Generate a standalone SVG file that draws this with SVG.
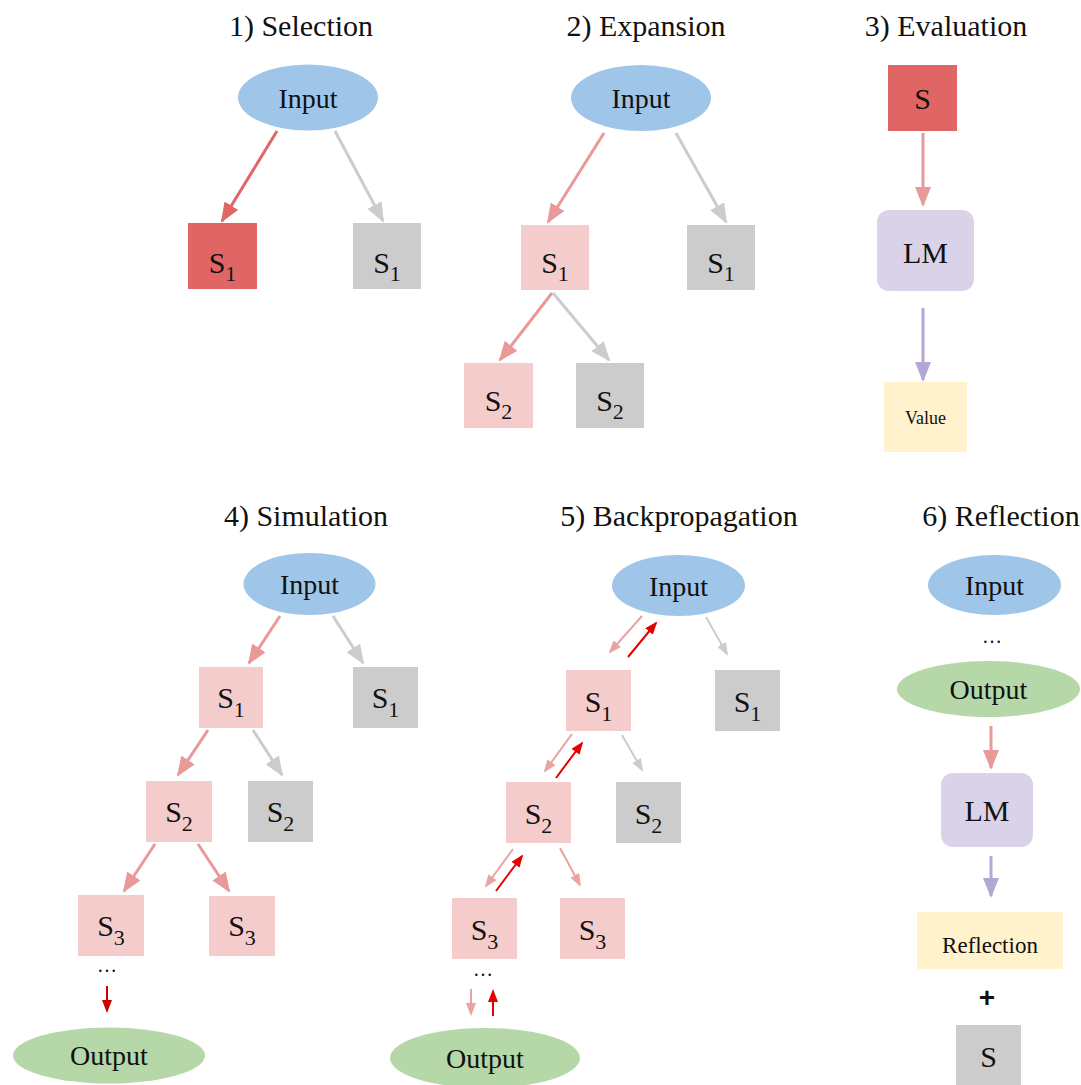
<svg xmlns="http://www.w3.org/2000/svg" width="1081" height="1085" viewBox="0 0 1081 1085">
  <style>
    text { font-family: "Liberation Serif", "Noto Serif", "DejaVu Serif", "Times New Roman", Times, serif; fill: #111; }
    .title { font-size: 30px; text-anchor: middle; }
    .lbl { font-size: 28px; text-anchor: middle; }
    .s { font-size: 30px; text-anchor: middle; }
    .sub { font-size: 22px; }
    .dots { font-size: 20px; text-anchor: middle; }
    .plus { font-family: "Liberation Sans", Arial, sans-serif; font-size: 28px; font-weight: bold; text-anchor: middle; }
    .input { fill: #9FC5E8; }
    .output { fill: #B6D7A8; }
    .red { fill: #E06666; }
    .pink { fill: #F4CCCC; }
    .gray { fill: #CCCCCC; }
    .lm { fill: #D9D2E9; }
    .note { fill: #FFF2CC; }
    .e { fill: none; stroke-width: 3; }
    .es { fill: none; stroke-width: 2; }
  </style>
  <defs>
    <marker id="hRed" markerUnits="userSpaceOnUse" markerWidth="20" markerHeight="16" refX="18" refY="8" orient="auto"><path d="M0,0 L20,8 L0,16 z" fill="#E06666"/></marker>
    <marker id="hPink" markerUnits="userSpaceOnUse" markerWidth="20" markerHeight="16" refX="18" refY="8" orient="auto"><path d="M0,0 L20,8 L0,16 z" fill="#EA9999"/></marker>
    <marker id="hGray" markerUnits="userSpaceOnUse" markerWidth="20" markerHeight="16" refX="18" refY="8" orient="auto"><path d="M0,0 L20,8 L0,16 z" fill="#CCCCCC"/></marker>
    <marker id="hPurple" markerUnits="userSpaceOnUse" markerWidth="20" markerHeight="16" refX="18" refY="8" orient="auto"><path d="M0,0 L20,8 L0,16 z" fill="#B4A7D6"/></marker>
    <marker id="sPink" markerUnits="userSpaceOnUse" markerWidth="13" markerHeight="10" refX="11" refY="5" orient="auto"><path d="M0,0 L13,5 L0,10 z" fill="#E8A3A3"/></marker>
    <marker id="sRed" markerUnits="userSpaceOnUse" markerWidth="13" markerHeight="10" refX="11" refY="5" orient="auto"><path d="M0,0 L13,5 L0,10 z" fill="#E60000"/></marker>
    <marker id="sGray" markerUnits="userSpaceOnUse" markerWidth="13" markerHeight="10" refX="11" refY="5" orient="auto"><path d="M0,0 L13,5 L0,10 z" fill="#CCCCCC"/></marker>
    <marker id="sDark" markerUnits="userSpaceOnUse" markerWidth="13" markerHeight="10" refX="11" refY="5" orient="auto"><path d="M0,0 L13,5 L0,10 z" fill="#CC0000"/></marker>
  </defs>
  <rect width="1081" height="1085" fill="#FFFFFF"/>

  <!-- panel titles -->
  <g id="titles">
    <text class="title" x="301" y="36">1) Selection</text>
    <text class="title" x="646" y="36">2) Expansion</text>
    <text class="title" x="946" y="36">3) Evaluation</text>
    <text class="title" x="306" y="526">4) Simulation</text>
    <text class="title" x="679" y="526">5) Backpropagation</text>
    <text class="title" x="1001" y="526">6) Reflection</text>
  </g>

  <!-- connectors -->
  <g id="connectors">
    <!-- 1) selection -->
    <path class="e" stroke="#E06666" d="M277,131 L222,221" marker-end="url(#hRed)"/>
    <path class="e" stroke="#CCCCCC" d="M335,131 L383,221" marker-end="url(#hGray)"/>
    <!-- 2) expansion -->
    <path class="e" stroke="#EA9999" d="M604,133 L548,222" marker-end="url(#hPink)"/>
    <path class="e" stroke="#CCCCCC" d="M676,133 L726,222" marker-end="url(#hGray)"/>
    <path class="e" stroke="#EA9999" d="M552,293 L500,360" marker-end="url(#hPink)"/>
    <path class="e" stroke="#CCCCCC" d="M553,293 L609,360" marker-end="url(#hGray)"/>
    <!-- 3) evaluation -->
    <path class="e" stroke="#EA9999" d="M923,133 L923,205" marker-end="url(#hPink)"/>
    <path class="e" stroke="#B4A7D6" d="M923,308 L923,380" marker-end="url(#hPurple)"/>
    <!-- 4) simulation -->
    <path class="e" stroke="#EA9999" d="M280,616 L249,663" marker-end="url(#hPink)"/>
    <path class="e" stroke="#CCCCCC" d="M333,616 L363,663" marker-end="url(#hGray)"/>
    <path class="e" stroke="#EA9999" d="M208,730 L178,775" marker-end="url(#hPink)"/>
    <path class="e" stroke="#CCCCCC" d="M253,730 L282,775" marker-end="url(#hGray)"/>
    <path class="e" stroke="#EA9999" d="M155,844 L124,891" marker-end="url(#hPink)"/>
    <path class="e" stroke="#EA9999" d="M198,844 L229,891" marker-end="url(#hPink)"/>
    <path class="es" stroke="#CC0000" d="M107,986 L107,1011" marker-end="url(#sDark)"/>
    <!-- 5) backpropagation -->
    <path class="es" stroke="#E8A3A3" d="M642,616 L610,652" marker-end="url(#sPink)"/>
    <path class="es" stroke="#E60000" d="M628,657 L656,623" marker-end="url(#sRed)"/>
    <path class="es" stroke="#CCCCCC" d="M706,617 L727,654" marker-end="url(#sGray)"/>
    <path class="es" stroke="#E8A3A3" d="M572,734 L545,771" marker-end="url(#sPink)"/>
    <path class="es" stroke="#E60000" d="M556,778 L582,743" marker-end="url(#sRed)"/>
    <path class="es" stroke="#CCCCCC" d="M622,735 L642,770" marker-end="url(#sGray)"/>
    <path class="es" stroke="#E8A3A3" d="M513,849 L486,886" marker-end="url(#sPink)"/>
    <path class="es" stroke="#E60000" d="M496,891 L522,856" marker-end="url(#sRed)"/>
    <path class="es" stroke="#E8A3A3" d="M560,848 L580,885" marker-end="url(#sPink)"/>
    <path class="es" stroke="#E8A3A3" d="M471,989 L471,1014" marker-end="url(#sPink)"/>
    <path class="es" stroke="#E60000" d="M493,1016 L493,991" marker-end="url(#sRed)"/>
    <!-- 6) reflection -->
    <path class="e" stroke="#EA9999" d="M991,726 L991,768" marker-end="url(#hPink)"/>
    <path class="e" stroke="#B4A7D6" d="M991,856 L991,896" marker-end="url(#hPurple)"/>
  </g>

  <!-- 1) selection -->
  <g id="p1-input"><ellipse class="input" cx="308" cy="97.5" rx="70" ry="33"/><text class="lbl" x="308" y="108">Input</text></g>
  <g id="p1-s1-sel"><rect class="red" x="188" y="223" width="69" height="66"/><text class="s" x="222.5" y="273">S<tspan class="sub" dy="8">1</tspan></text></g>
  <g id="p1-s1-alt"><rect class="gray" x="353" y="223" width="68" height="66"/><text class="s" x="387" y="273">S<tspan class="sub" dy="8">1</tspan></text></g>

  <!-- 2) expansion -->
  <g id="p2-input"><ellipse class="input" cx="641" cy="98" rx="70" ry="33"/><text class="lbl" x="641" y="108">Input</text></g>
  <g id="p2-s1"><rect class="pink" x="521" y="225" width="68" height="65"/><text class="s" x="555" y="273">S<tspan class="sub" dy="8">1</tspan></text></g>
  <g id="p2-s1-alt"><rect class="gray" x="687" y="225" width="68" height="65"/><text class="s" x="721" y="273">S<tspan class="sub" dy="8">1</tspan></text></g>
  <g id="p2-s2"><rect class="pink" x="464" y="363" width="69" height="65"/><text class="s" x="498.5" y="411">S<tspan class="sub" dy="8">2</tspan></text></g>
  <g id="p2-s2-alt"><rect class="gray" x="576" y="363" width="68" height="65"/><text class="s" x="610" y="411">S<tspan class="sub" dy="8">2</tspan></text></g>

  <!-- 3) evaluation -->
  <g id="p3-s"><rect class="red" x="888" y="65" width="69" height="66"/><text class="s" x="922.5" y="109">S</text></g>
  <g id="p3-lm"><rect class="lm" x="877" y="210" width="97" height="81" rx="12"/><text class="s" x="925.5" y="263">LM</text></g>
  <g id="p3-value"><rect class="note" x="884" y="382" width="83" height="70"/><text x="925.5" y="424" font-size="18" text-anchor="middle">Value</text></g>

  <!-- 4) simulation -->
  <g id="p4-input"><ellipse class="input" cx="309.5" cy="584" rx="66" ry="31"/><text class="lbl" x="309.5" y="594">Input</text></g>
  <g id="p4-s1"><rect class="pink" x="199" y="667" width="64" height="61"/><text class="s" x="231" y="708">S<tspan class="sub" dy="9">1</tspan></text></g>
  <g id="p4-s1-alt"><rect class="gray" x="353" y="667" width="65" height="61"/><text class="s" x="385.5" y="708">S<tspan class="sub" dy="9">1</tspan></text></g>
  <g id="p4-s2"><rect class="pink" x="146" y="781" width="66" height="61"/><text class="s" x="179" y="822">S<tspan class="sub" dy="9">2</tspan></text></g>
  <g id="p4-s2-alt"><rect class="gray" x="248" y="781" width="65" height="61"/><text class="s" x="280.5" y="822">S<tspan class="sub" dy="9">2</tspan></text></g>
  <g id="p4-s3a"><rect class="pink" x="78" y="895" width="66" height="61"/><text class="s" x="111" y="936">S<tspan class="sub" dy="9">3</tspan></text></g>
  <g id="p4-s3b"><rect class="pink" x="209" y="896" width="66" height="60"/><text class="s" x="242" y="936">S<tspan class="sub" dy="9">3</tspan></text></g>
  <g id="p4-dots"><text class="dots" x="107" y="972">…</text></g>
  <g id="p4-output"><ellipse class="output" cx="109" cy="1055.5" rx="96" ry="28"/><text class="lbl" x="109" y="1065">Output</text></g>

  <!-- 5) backpropagation -->
  <g id="p5-input"><ellipse class="input" cx="678.5" cy="585.5" rx="66.5" ry="30.5"/><text class="lbl" x="678.5" y="596">Input</text></g>
  <g id="p5-s1"><rect class="pink" x="566" y="670" width="65" height="61"/><text class="s" x="598.5" y="712">S<tspan class="sub" dy="9">1</tspan></text></g>
  <g id="p5-s1-alt"><rect class="gray" x="715" y="670" width="65" height="61"/><text class="s" x="747.5" y="712">S<tspan class="sub" dy="9">1</tspan></text></g>
  <g id="p5-s2"><rect class="pink" x="506" y="782" width="65" height="61"/><text class="s" x="538.5" y="824">S<tspan class="sub" dy="9">2</tspan></text></g>
  <g id="p5-s2-alt"><rect class="gray" x="616" y="782" width="65" height="61"/><text class="s" x="648.5" y="824">S<tspan class="sub" dy="9">2</tspan></text></g>
  <g id="p5-s3a"><rect class="pink" x="452" y="898" width="65" height="61"/><text class="s" x="484.5" y="940">S<tspan class="sub" dy="9">3</tspan></text></g>
  <g id="p5-s3b"><rect class="pink" x="560" y="898" width="65" height="61"/><text class="s" x="592.5" y="940">S<tspan class="sub" dy="9">3</tspan></text></g>
  <g id="p5-dots"><text class="dots" x="483" y="976">…</text></g>
  <g id="p5-output"><ellipse class="output" cx="485" cy="1058" rx="95" ry="30"/><text class="lbl" x="485" y="1068">Output</text></g>

  <!-- 6) reflection -->
  <g id="p6-input"><ellipse class="input" cx="994.5" cy="585" rx="66.5" ry="30"/><text class="lbl" x="994.5" y="595">Input</text></g>
  <g id="p6-dots"><text class="dots" x="992" y="643">…</text></g>
  <g id="p6-output"><ellipse class="output" cx="988.5" cy="689" rx="91.5" ry="28"/><text class="lbl" x="988.5" y="699">Output</text></g>
  <g id="p6-lm"><rect class="lm" x="941" y="773" width="92" height="74" rx="12"/><text class="s" x="987" y="821">LM</text></g>
  <g id="p6-reflection"><rect class="note" x="917" y="912" width="146" height="57"/><text x="990" y="953" font-size="23" text-anchor="middle">Reflection</text></g>
  <g id="p6-plus"><text class="plus" x="987" y="1007">+</text></g>
  <g id="p6-s"><rect class="gray" x="956" y="1025" width="65" height="62"/><text class="s" x="988.5" y="1067">S</text></g>
</svg>
